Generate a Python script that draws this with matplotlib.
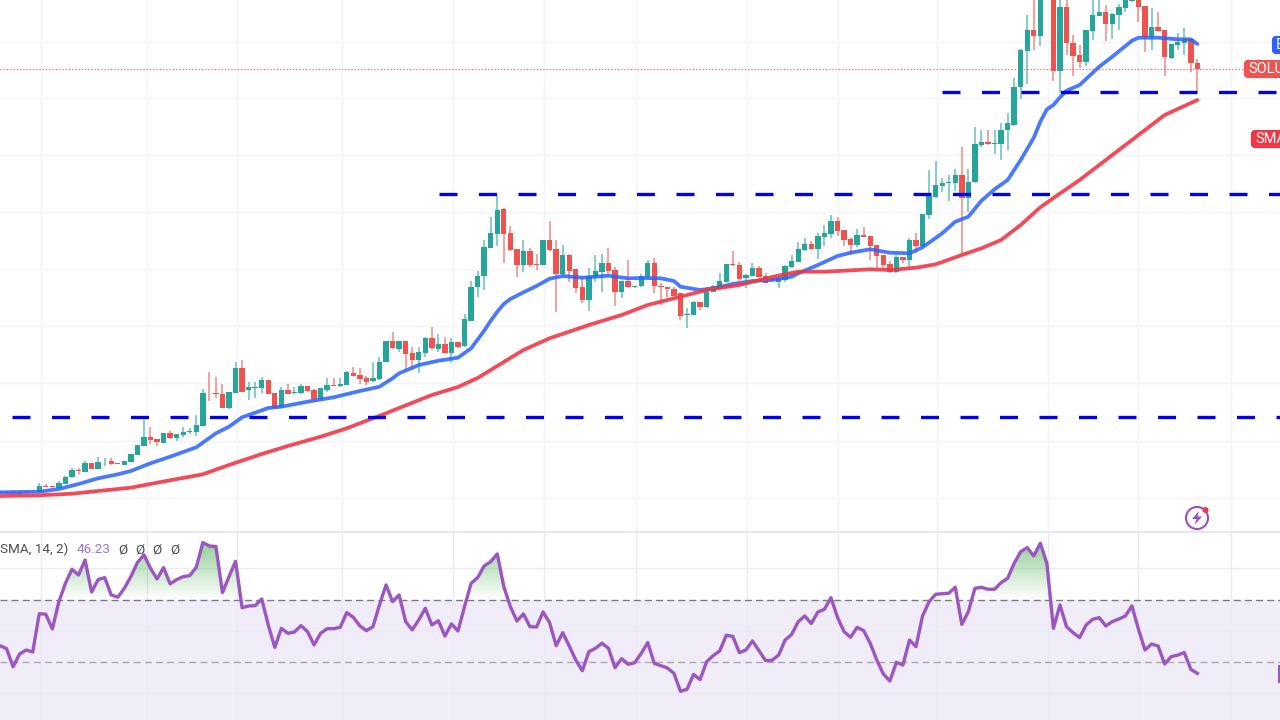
import numpy as np
import matplotlib
matplotlib.use('Agg')
import matplotlib.pyplot as plt
from matplotlib.patches import FancyBboxPatch, Circle, Polygon, Rectangle
from matplotlib.path import Path

# Candles, price in chart units
open_ = [39.5,40.5,40.5,38.5,40.5,40.5,39.7,46.3,46.3,44,
    47.7,54.7,62,60,68.7,63.3,70.7,71,68.7,67,
    70.3,77,86,94.7,92.7,89.3,99,93.7,97.3,99.7,
    99.7,106.3,139.3,139.3,137.7,124,139.3,163.7,141.7,143.7,
    143.7,152.3,139,125.3,142.3,139,138.7,145.7,142.3,132.7,
    142.3,147,146.3,147,159,157,154,150.7,152.7,170,
    191.3,183,191.3,179,172,179,194,183,188,179,
    190,186,211.3,244.7,256,284,297.7,322.7,298.7,282.7,
    267,280.7,267.7,267,291.7,282.7,257.7,277,262.7,245.3,
    232,255.3,260.3,268.7,262,239.7,251,245,246,255.3,
    268.7,246,245.3,243,238.7,216.7,217.3,230.3,225,240.3,
    245.3,250.3,267.7,267,253.7,256,264.3,256,253,250.3,
    252,264.7,270.3,282,288,282.7,295.3,297.7,311,302,
    292.7,287,297,296,287,277,267.7,260.3,275,272,
    291.7,286,316.7,335.3,346.3,348.7,348.7,357,334,349.7,
    387,389.7,388.3,388,402,407,444.7,481.3,502,496,
    538,538,461,524.7,489.3,477,469.7,501.3,516.3,520.3,
    508,517,524,531,538,526,494.7,505.3,502,474.3,
    486.7,488.7,492.7,469.3]
close = [40.5,39.5,39.5,40.5,39.5,39.8,46.3,45,44.7,48.7,
    55.3,62,61,68.7,63,69.7,71.3,68,68,71,
    77.7,86.7,94.7,92,90,99,94,97.7,100.3,101,
    107,138.7,138.7,138.3,124.3,140,163.7,140.3,144.7,145.3,
    152.3,138,124.3,142.3,138,140,145.7,141.3,132.7,143.7,
    147,146.3,148,159.7,156.3,152.7,150.3,154,170.3,191.3,
    183.7,191,178,172,180,194,184,188,179,190,
    185,212.7,245.3,256.3,285,298.7,322,298,282,267,
    280.7,267,267,291.7,282,258,277,261.3,244.3,232,
    256.3,261,268.7,261.3,239.7,251,244.7,246,256.3,268.7,
    246,245,242.7,236.3,216.3,217.7,230.3,225.3,240.3,246.3,
    251,268,266.7,253,257,264.3,255.3,249.3,252,254.3,
    266,271.3,282.7,288,283,296,298.7,311,301,292,
    287.3,297,295.3,286,276,267,260.3,275,272,291.7,
    286.3,317.7,336.3,347,348.7,350,357,334,350.3,388,
    389.7,388,389,402,408.7,445.3,482,502,496,532,
    533,461,524.7,489.3,476.3,469.7,502,517,520.3,508,
    518,524.7,532,535,525.3,494.7,505.3,501.3,474.7,487.7,
    489.7,492.7,468.7,463]
high = [41,41,41,41,41,41,48.7,48,46.5,51.3,
    56,64.3,63.7,70.7,69.3,74.7,73.7,73.7,69,71.3,
    78.5,87,112,104.7,93,99.5,100.7,98,104.7,104.3,
    117,143,160.3,155.3,148,140,169.7,172,150.3,150.3,
    154.7,152.3,139,145.3,148,145.3,147.7,146,142.7,144,
    153.7,153.7,153.7,160.7,164.7,163.7,156,170.3,175.3,191.5,
    200,191.3,191.5,185,185,195,205,198,195,194,
    190.5,218,251,261.3,291.7,314.7,338,323.7,306.3,283,
    291.7,283.7,278,292,311,291.7,287,278,263,254.3,
    263.7,277,278,283.7,264.7,251.5,272,246.5,258,272,
    273.7,248.7,245.5,245.3,238.7,223.7,231,230.5,245.3,247,
    258.7,268.5,281.3,270.3,258,269.3,266,258.7,254,255,
    267,277,290.3,294.3,291,298.7,307,317,314.7,302.5,
    293.7,303,305.3,296.5,287.5,277.5,271.3,277,275.5,293.7,
    298.7,318.5,362,371,353.7,357,362.7,384.7,362.7,405,
    402,402,402,408.7,418.7,453.7,483,517,535,545,
    545,550,540,540,497,487,502.5,535,540,527,
    519,528,538,540,542,526.5,523.7,520.3,502.5,488,
    498.7,504.3,493,472.7]
low = [39,39,39,38.5,39,39.3,39.3,44.7,44.5,44,
    47.7,54,57.7,60,63,63,66,67,67.7,67,
    70,76.7,86,88,86,89,93.3,91.3,94.7,98,
    96,106,131,133.7,124.3,123,138.7,139.7,132.3,133.7,
    139.3,138,124.3,124.3,137.7,137.7,137.7,140.3,130.3,132.3,
    140.3,146,145.3,147,156,148,147,150.3,152.3,170,
    183.5,180,161.3,162,159.3,175,182,180,178.5,169,
    184.5,185.5,211,235.3,242,284,286.3,269.3,281,254.7,
    260.3,264.7,262,267,281,220.3,257,250.3,238.7,228.7,
    221,250.3,240.3,257.7,226,233.7,244.3,243.7,245.3,255,
    238.7,227,235.3,236,212,203.7,217,222,223.7,240,
    245,249.7,266,251,243.7,255.7,255,248.7,251,243.7,
    250.3,264,270,281.5,282.5,272.7,286,293.7,296.3,286.3,
    277,285.3,294.7,272,263.7,263.7,259.5,259.3,269.3,263.7,
    278.7,285.5,312.7,334,340.3,331.3,341,277,320.3,349,
    385,387,378,372,382,406,433,447.7,482,486.3,
    532,451.3,438.7,477,456,463.7,466.3,492,516,491.3,
    493,502,520.3,530,510.3,479.7,482,500.5,456,472.7,
    482,477,460.3,440.3]

# Moving averages, read at the candles listed
fast_idx = [0,6,9,12,15,18,20,23,26,30,33,35,37,39,41,43,47,51,55,58,60,61,64,67,70,72,
    74,75,76,77,78,80,82,84,86,89,93,96,98,101,103,104,107,109,112,115,118,121,122,125,128,
    130,133,136,139,141,144,146,148,150,152,154,156,158,159,160,161,162,163,165,168,170,173,174,177,
    180,182,183]
fast_ma = [39.7,40.3,43,48,53.7,57.7,61,68.7,75.3,84.7,98.7,105.3,114.7,119.3,124,125.3,
    130.3,134.7,141,145.3,153.7,158.7,167,171.3,174.3,183.7,201.3,211.3,220.3,228,233,239.7,
    246,253.3,256,254.3,256.3,253.7,254,253.7,251,245.3,242,243.7,248,251,252,255.3,258.7,
    267,276,279.3,282.7,279.3,278.7,284.7,298.7,310.3,315.3,331.3,342.7,352,372,394.3,410.3,422.7,427,434.7,
    441.3,447,465.3,475.3,491.3,494.3,494.3,492.7,492.7,488]
slow_idx = [0,6,11,15,20,24,31,35,40,44,49,53,59,61,66,70,73,76,80,84,90,95,99,104,108,113,
    119,122,126,129,133,136,140,143,147,150,153,156,159,161,165,169,174,178,183]
slow_ma = [36,36.7,38.3,41,44.3,49.3,57.7,67,78,86,95.3,103.7,118.7,124,137,145,154,166,
    182,193.7,207,217,227,235.3,242,247,256.5,260.3,260.3,261.3,262.7,262,264.3,267.7,277,
    283.7,292,307,324.7,334,352,372,397,417,432]

# Drawn levels: price, first candle
levels = [439.7, 337.7, 115]
level_start = [144, 67.1, 1.83]
last_price = 463.5

rsi = [40.4,38.5,26.7,35,37.6,36.3,61.3,60.9,51.3,69.1,
    81.1,90.2,86.5,96.3,75.4,83.5,84.8,73.5,72,77.8,
    85.4,94.6,99.6,90.9,83.9,91.3,80.7,83.5,85.4,86.1,
    91.5,107.6,105.4,105,75,85.4,95.4,65.2,66.3,66.5,
    70.9,53.9,39.3,51.7,48.5,49.3,53.5,49.6,40.9,48.5,
    51.5,51.5,52.4,62,58.9,53.3,50.2,52.8,67,80,
    69.1,73.5,56.1,50.7,57.2,
    64.8,53.9,56.7,46.7,54.6,50,65.9,81.1,84.8,92.4,
    95.2,100.2,78.9,65.9,56.5,61.1,52.8,52.6,62.4,55.4,
    40.4,48.9,40.2,31.1,24.1,36.5,38.7,42,38.7,26.1,
    32,28.3,29.3,35.4,42.4,28.9,27.4,25.9,22.4,10.7,
    12,21.7,18.3,30,33.9,37,47.2,46.5,35.9,37.6,
    43.5,37.2,30.7,30.9,34.3,44.1,47.8,56.1,59.8,54.8,
    62.4,64.1,71.7,58.9,49.6,45.9,
    52.4,50.2,42,31.1,22,17.4,29.6,27.8,44.1,39.8,
    59.8,69.1,73.9,74.3,74.6,78.5,54.3,62.6,77.8,78.5,
    77.2,77.2,81.5,84.3,94.1,101.7,104.3,98.9,107.2,94.1,
    51.7,67,52.8,48.9,45.7,53.9,57.6,58.7,53.3,56.1,
    57.8,59.8,66.3,51.1,37.6,41.5,40.2,28.5,33.3,34.3,
    35.9,25,22.4]

x_grid = [6.2,22.4,36.2,52.2,69.2,83.2,97.2,114.1,128.1,143.2,160.1,174,188.1]
price_grid = [34.5,91,149,206,263,320,377,434.3,490.3]
rsi_grid = [9.7,50,91]

GREEN = '#26a69a'
RED = '#ef5350'
n_visible = 1280 / 6.543

fig = plt.figure(figsize=(12.8, 7.2), dpi=100)
plt.rcParams['font.family'] = ['Roboto', 'DejaVu Sans']

# price pane
ax = fig.add_axes([0, 188 / 720, 1, 532 / 720])
ax.set_xlim(0, n_visible)
ax.set_ylim(0, 532)
for s in ax.spines.values():
    s.set_visible(False)
ax.set_xticks(x_grid)
ax.set_yticks(price_grid)
ax.tick_params(length=0, labelbottom=False, labelleft=False)
ax.grid(True, color='#f3f4f6', lw=1)
ax.set_axisbelow(True)

o = np.array(open_)
c = np.array(close)
idx = np.arange(len(o))
colors = [GREEN if c[i] >= o[i] else RED for i in idx]
ax.vlines(idx, low, high, colors=colors, lw=1.1, alpha=0.7, zorder=2)
ax.bar(idx, np.abs(c - o), bottom=np.minimum(o, c), width=0.82, color=colors, zorder=3)

ax.plot(fast_idx, fast_ma, color='#2962ff', lw=2.7, alpha=0.85, zorder=4, solid_capstyle='round')
ax.plot(slow_idx, slow_ma, color='#f23645', lw=2.7, alpha=0.9, zorder=4, solid_capstyle='round')

for lev, start in zip(levels, level_start):
    ax.plot([start, n_visible], [lev, lev], color='#0000f0', lw=2.4, zorder=5,
            dashes=(5.4, 6.45), dash_capstyle='butt')
ax.axhline(last_price, xmax=1243 / 1280, color='#f0686a', lw=0.9, ls=(0, (1, 1.6)), zorder=1)

# RSI pane
ax2 = fig.add_axes([0, 0, 1, 188 / 720])
for s in ax2.spines.values():
    s.set_visible(False)
ax2.set_xticks(x_grid)
ax2.set_yticks(rsi_grid)
ax2.tick_params(length=0, labelbottom=False, labelleft=False)
ax2.grid(True, color='#ebe9f3', lw=1)
ax2.set_axisbelow(True)
ax2.axhspan(-8, 70, color='#f0ecf8', lw=0, zorder=0)

rsi_x = np.arange(len(rsi))
rsi_arr = np.array(rsi)
region = ax2.fill_between(rsi_x, 70, rsi_arr, where=rsi_arr > 70, interpolate=True,
                          facecolor='none', edgecolor='none')
clip = Path.make_compound_path(*region.get_paths())
grad = np.zeros((64, 2, 4))
grad[..., :3] = matplotlib.colors.to_rgb('#4caf50')
grad[..., 3] = np.linspace(0.6, 0, 64)[:, None]
im = ax2.imshow(grad, extent=(0, n_visible, 70, 107.6), origin='upper', aspect='auto', zorder=2)
im.set_clip_path(clip, transform=ax2.transData)

ax2.axhline(70, color='#787b86', lw=1, dashes=(5, 3), zorder=3)
ax2.axhline(30, color='#a9a9b3', lw=1, dashes=(5, 3), zorder=3)
ax2.plot(rsi_x, rsi_arr, color='#9c56c2', lw=2.4, zorder=4, solid_joinstyle='round')
ax2.set_xlim(0, n_visible)
ax2.set_ylim(-8, 114.5)

# tags, pane border, legend and icon in pixel coordinates
top = fig.add_axes([0, 0, 1, 1], facecolor='none')
top.set_xlim(0, 1280)
top.set_ylim(720, 0)
top.axis('off')

top.plot([0, 1280], [532.3, 532.3], color='#e4e2ef', lw=1.2)

def tag(x, y, w, h, col, txt=None):
    box = FancyBboxPatch((x + 2, y + 2), w, h - 4, boxstyle='round,pad=0,rounding_size=2',
                         mutation_aspect=1, facecolor=col, edgecolor=col, lw=3, clip_on=True)
    top.add_patch(box)
    if txt:
        top.text(x + 4, y + h / 2 + 0.3, txt, color='white', fontsize=10.5, va='center', ha='left', clip_on=True)

tag(1272, 36, 20, 18, '#2962ff', 'E')
tag(1244, 60, 50, 18, RED, 'SOLUSD')
tag(1251, 130, 40, 18, '#f23645', 'SMA')
top.add_patch(Rectangle((1278, 665), 4, 18, facecolor='#9c56c2', edgecolor='none'))

top.text(0, 549.5, 'SMA, 14, 2)', fontsize=9.7, color='#4a4d57', va='center', ha='left')
top.text(77, 549.5, '46.23', fontsize=9.7, color='#a86fcb', va='center', ha='left')
for xp in [118.5, 135.5, 152.5, 170.5]:
    top.text(xp, 549.5, 'Ø', fontsize=9.7, color='#4a4d57', va='center', ha='left')

top.add_patch(Circle((1197, 518), 11, facecolor='white', edgecolor='#9c4fc0', lw=1.5))
top.add_patch(Polygon([(1199, 511), (1192, 519), (1196.5, 519), (1194.5, 525), (1202, 516.5), (1197.5, 516.5)],
                      facecolor='#9c4fc0', edgecolor='none'))
top.add_patch(Circle((1205.5, 510), 3, facecolor='#f23645', edgecolor='none'))

fig.savefig('out.png', dpi=100)
